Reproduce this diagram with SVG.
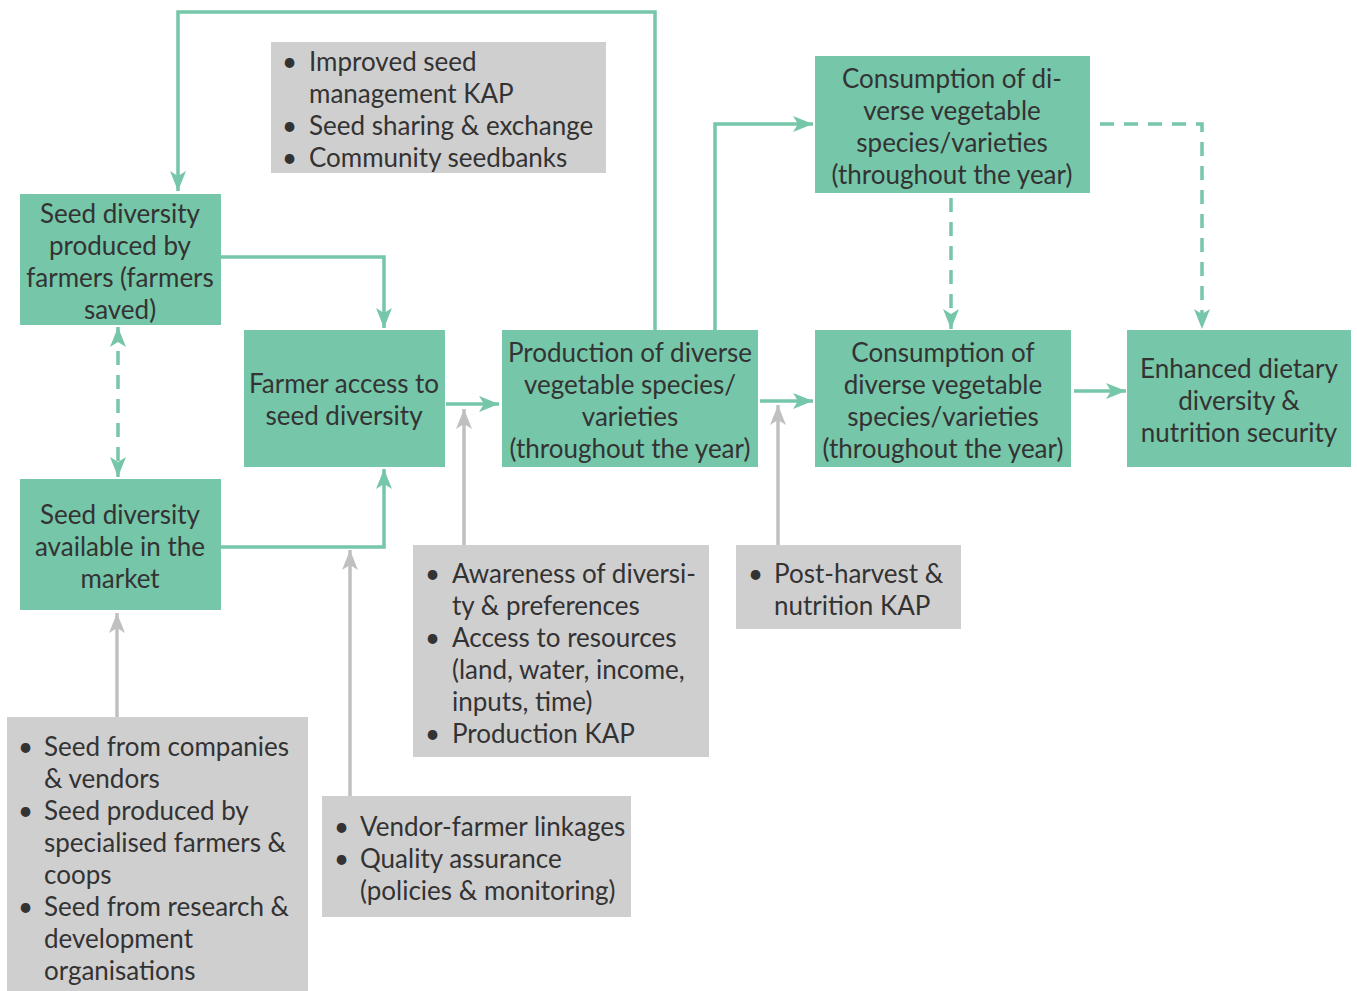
<svg xmlns="http://www.w3.org/2000/svg" width="1357" height="991" viewBox="0 0 1357 991">
<defs>
<style>
.g{fill:#76c6a9}
.b{fill:#d0cfd0}
text{font-family:Lato,"Open Sans","Liberation Sans",sans-serif;font-size:26px;fill:#333333}
.c{text-anchor:middle}
.gl{fill:none;stroke:#76c6a9;stroke-width:3.5}
.d{stroke-dasharray:14 10}
.gr{fill:none;stroke:#c0c0c0;stroke-width:3.5}
</style>
<marker id="ag" markerUnits="userSpaceOnUse" markerWidth="22" markerHeight="18" refX="20" refY="8" orient="auto-start-reverse"><path d="M0,0 L20,8 L0,16 L5,8 Z" fill="#76c6a9"/></marker>
<marker id="ay" markerUnits="userSpaceOnUse" markerWidth="22" markerHeight="18" refX="20" refY="8" orient="auto"><path d="M0,0 L20,8 L0,16 L5,8 Z" fill="#c0c0c0"/></marker>
</defs>
<rect width="1357" height="991" fill="#ffffff"/>
<g id="connectors">
<path class="gl" d="M221,257 H384 V328" marker-end="url(#ag)"/>
<path class="gl" d="M221,547 H384 V469" marker-end="url(#ag)"/>
<path class="gl d" d="M118,327 V477" marker-start="url(#ag)" marker-end="url(#ag)"/>
<path class="gl" d="M446,404 H499" marker-end="url(#ag)"/>
<path class="gl" d="M760,401 H813" marker-end="url(#ag)"/>
<path class="gl" d="M1074,391 H1126" marker-end="url(#ag)"/>
<path class="gl" d="M655,330 V12 H178 V191" marker-end="url(#ag)"/>
<path class="gl" d="M715,330 V124 H813" marker-end="url(#ag)"/>
<path class="gl d" d="M951,198 V329" marker-end="url(#ag)"/>
<path class="gl d" d="M1100,124 H1202 V329" marker-end="url(#ag)"/>
<path class="gr" d="M117,717 V613" marker-end="url(#ay)"/>
<path class="gr" d="M350,796 V550" marker-end="url(#ay)"/>
<path class="gr" d="M464,545 V409" marker-end="url(#ay)"/>
<path class="gr" d="M778,545 V405" marker-end="url(#ay)"/>
</g>
<g id="seed-farmers">
<rect class="g" x="20" y="194" width="201" height="131"/>
<text class="c" x="120" y="223">Seed diversity</text>
<text class="c" x="120" y="255">produced by</text>
<text class="c" x="120" y="287">farmers (farmers</text>
<text class="c" x="120" y="319">saved)</text>
</g>
<g id="seed-market">
<rect class="g" x="20" y="479" width="201" height="131"/>
<text class="c" x="120" y="524">Seed diversity</text>
<text class="c" x="120" y="556">available in the</text>
<text class="c" x="120" y="588">market</text>
</g>
<g id="farmer-access">
<rect class="g" x="244" y="330" width="201" height="137"/>
<text class="c" x="344" y="393">Farmer access to</text>
<text class="c" x="344" y="425">seed diversity</text>
</g>
<g id="production">
<rect class="g" x="502" y="330" width="256" height="137"/>
<text class="c" x="630" y="362">Production of diverse</text>
<text class="c" x="630" y="394">vegetable species/</text>
<text class="c" x="630" y="426">varieties</text>
<text class="c" x="630" y="458">(throughout the year)</text>
</g>
<g id="consumption-top">
<rect class="g" x="815" y="56" width="275" height="137"/>
<text class="c" x="952" y="88">Consumption of di-</text>
<text class="c" x="952" y="120">verse vegetable</text>
<text class="c" x="952" y="152">species/varieties</text>
<text class="c" x="952" y="184">(throughout the year)</text>
</g>
<g id="consumption-mid">
<rect class="g" x="815" y="330" width="256" height="137"/>
<text class="c" x="943" y="362">Consumption of</text>
<text class="c" x="943" y="394">diverse vegetable</text>
<text class="c" x="943" y="426">species/varieties</text>
<text class="c" x="943" y="458">(throughout the year)</text>
</g>
<g id="enhanced">
<rect class="g" x="1127" y="330" width="224" height="137"/>
<text class="c" x="1239" y="378">Enhanced dietary</text>
<text class="c" x="1239" y="410">diversity &amp;</text>
<text class="c" x="1239" y="442">nutrition security</text>
</g>
<g id="seed-management">
<rect class="b" x="271" y="42" width="335" height="131"/>
<text x="282" y="71">•</text><text x="309" y="71">Improved seed</text>
<text x="309" y="103">management KAP</text>
<text x="282" y="135">•</text><text x="309" y="135">Seed sharing &amp; exchange</text>
<text x="282" y="167">•</text><text x="309" y="167">Community seedbanks</text>
</g>
<g id="awareness">
<rect class="b" x="413" y="545" width="296" height="212"/>
<text x="425" y="583">•</text><text x="452" y="583">Awareness of diversi-</text>
<text x="452" y="615">ty &amp; preferences</text>
<text x="425" y="647">•</text><text x="452" y="647">Access to resources</text>
<text x="452" y="679">(land, water, income,</text>
<text x="452" y="711">inputs, time)</text>
<text x="425" y="743">•</text><text x="452" y="743">Production KAP</text>
</g>
<g id="post-harvest">
<rect class="b" x="736" y="545" width="225" height="84"/>
<text x="748" y="583">•</text><text x="774" y="583">Post-harvest &amp;</text>
<text x="774" y="615">nutrition KAP</text>
</g>
<g id="vendor">
<rect class="b" x="322" y="796" width="309" height="121"/>
<text x="334" y="836">•</text><text x="360" y="836">Vendor-farmer linkages</text>
<text x="334" y="868">•</text><text x="360" y="868">Quality assurance</text>
<text x="360" y="900">(policies &amp; monitoring)</text>
</g>
<g id="seed-sources">
<rect class="b" x="7" y="717" width="301" height="274"/>
<text x="18" y="756">•</text><text x="44" y="756">Seed from companies</text>
<text x="44" y="788">&amp; vendors</text>
<text x="18" y="820">•</text><text x="44" y="820">Seed produced by</text>
<text x="44" y="852">specialised farmers &amp;</text>
<text x="44" y="884">coops</text>
<text x="18" y="916">•</text><text x="44" y="916">Seed from research &amp;</text>
<text x="44" y="948">development</text>
<text x="44" y="980">organisations</text>
</g>
</svg>
